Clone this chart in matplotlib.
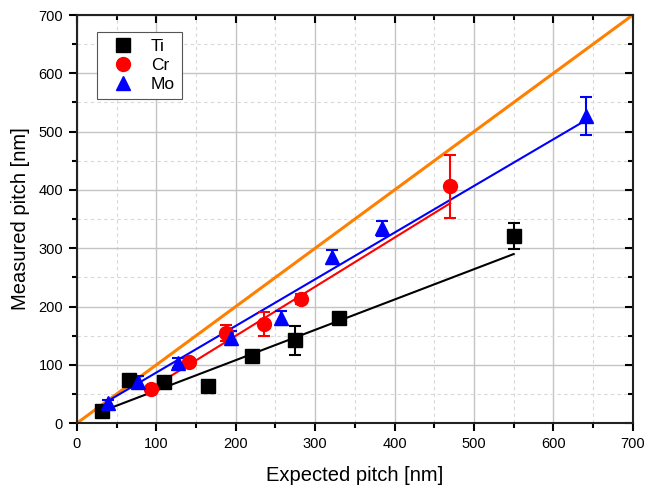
import numpy as np
import matplotlib
matplotlib.use("Agg")
import matplotlib.pyplot as plt
from matplotlib.ticker import MultipleLocator

plt.rcParams['font.family'] = ['Liberation Sans', 'DejaVu Sans']

# Data
ti_x = [32, 65, 110, 165, 220, 275, 330, 550]
ti_y = [20, 74, 71, 63, 115, 142, 180, 321]
ti_err = [4, 4, 4, 5, 6, 25, 5, 22]

cr_x = [93, 141, 188, 235, 282, 470]
cr_y = [59, 105, 154, 170, 213, 406]
cr_err = [4, 5, 14, 20, 8, 54]

mo_x = [39, 77, 127, 194, 257, 321, 384, 641]
mo_y = [34, 70, 103, 146, 181, 285, 334, 527]
mo_err = [6, 10, 8, 12, 12, 12, 13, 32]

# Linear fits (slope, intercept)
ti_fit = (0.52, 4.0)
cr_fit = (0.842, -18.6)
mo_fit = (0.80, 6.8)
ideal_x = [0, 700]

fig = plt.figure(figsize=(6.47, 4.92), dpi=100)
ax = fig.add_axes([0.119, 0.140, 0.859, 0.8295])

ax.set_xlim(0, 700)
ax.set_ylim(0, 700)
ax.xaxis.set_major_locator(MultipleLocator(100))
ax.yaxis.set_major_locator(MultipleLocator(100))
ax.xaxis.set_minor_locator(MultipleLocator(50))
ax.yaxis.set_minor_locator(MultipleLocator(50))
ax.grid(which='major', color='#c4c4c4', linewidth=1.0, linestyle='-')
ax.grid(which='minor', color='#d8d8d8', linewidth=0.8, linestyle=(0, (3, 3)))
ax.set_axisbelow(True)

# ideal line
ax.plot(ideal_x, ideal_x, color='#ff8000', linewidth=2.2, zorder=2)

def fitline(xs, fit, color):
    xx = np.array([min(xs), max(xs)])
    ax.plot(xx, fit[0] * xx + fit[1], color=color, linewidth=1.5, zorder=3)

fitline(ti_x, ti_fit, 'black')
fitline(cr_x, cr_fit, 'red')
fitline(mo_x, mo_fit, 'blue')

ax.errorbar(ti_x, ti_y, yerr=ti_err, fmt='s', color='black', markersize=9.5,
            capsize=4, elinewidth=1.5, capthick=1.5, label='Ti', zorder=4)
ax.errorbar(cr_x, cr_y, yerr=cr_err, fmt='o', color='red', markersize=10,
            capsize=4, elinewidth=1.5, capthick=1.5, label='Cr', zorder=4)
ax.errorbar(mo_x, mo_y, yerr=mo_err, fmt='^', color='blue', markersize=10.5,
            capsize=4, elinewidth=1.5, capthick=1.5, label='Mo', zorder=4)

for s in ax.spines.values():
    s.set_linewidth(1.5)
    s.set_color('#222222')

ax.tick_params(which='both', labelsize=10.5, width=1.5, direction='out', pad=4)
ax.tick_params(which='major', length=6)
ax.tick_params(which='minor', length=3.5)
ax.xaxis.set_ticks_position('both')
ax.yaxis.set_ticks_position('both')
for t in ax.xaxis.get_major_ticks() + ax.xaxis.get_minor_ticks():
    t.tick2line.set_marker(3)  # inward from top
for t in ax.yaxis.get_major_ticks() + ax.yaxis.get_minor_ticks():
    t.tick2line.set_marker(0)  # inward from right

ax.set_xlabel('Expected pitch [nm]', fontsize=14.5, labelpad=11)
ax.set_ylabel('Measured pitch [nm]', fontsize=14.5, labelpad=6)

handles, labels = ax.get_legend_handles_labels()
handles = [h[0] for h in handles]
leg = ax.legend(handles, labels, loc='upper left', bbox_to_anchor=(0.036, 0.958),
                fontsize=12.5, fancybox=False, edgecolor='#555555',
                framealpha=1, handletextpad=0.5, borderpad=0.4,
                labelspacing=0.22, handlelength=2.2, borderaxespad=0)
leg.get_frame().set_linewidth(0.8)

fig.savefig('out.png', dpi=100)
